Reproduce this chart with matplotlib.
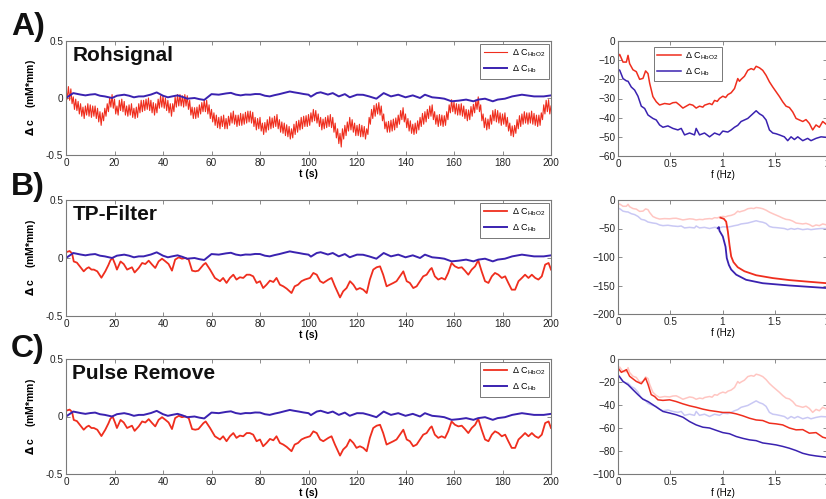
import matplotlib
matplotlib.use("Agg")
import matplotlib.pyplot as plt
import numpy as np

plt.rcParams['font.family'] = ['Liberation Sans', 'DejaVu Sans']
plt.rcParams['mathtext.fontset'] = 'custom'
plt.rcParams['mathtext.rm'] = 'Liberation Sans'

# ---------------- time-domain data ----------------
# raw HbO2 signal: pulse peaks at whole seconds, troughs at half seconds
t_raw_hi = list(range(0, 201))
hbo2_raw_hi = [0.08, 0.10, 0.08, 0.01, -0.01, -0.03, -0.05, -0.08, -0.07, -0.05,
               -0.06, -0.07, -0.07, -0.09, -0.12, -0.13, -0.09, -0.05, 0.00, 0.03,
               -0.01, -0.07, -0.02, -0.01, -0.03, -0.07, -0.06, -0.05, -0.09, -0.08,
               -0.05, -0.02, -0.02, -0.01, 0.00, -0.02, -0.04, -0.05, -0.01, 0.02,
               0.02, 0.00, -0.02, -0.05, -0.05, 0.01, 0.03, 0.03, 0.02, 0.03,
               0.02, -0.02, -0.08, -0.085, -0.08, -0.06, -0.04, -0.02, -0.02, -0.06,
               -0.10, -0.13, -0.15, -0.17, -0.16, -0.15, -0.18, -0.16, -0.13, -0.115,
               -0.15, -0.15, -0.135, -0.14, -0.125, -0.115, -0.115, -0.125, -0.17, -0.18,
               -0.17, -0.22, -0.215, -0.19, -0.165, -0.175, -0.16, -0.145, -0.19, -0.21,
               -0.22, -0.235, -0.25, -0.27, -0.23, -0.205, -0.195, -0.17, -0.16, -0.155,
               -0.145, -0.13, -0.10, -0.11, -0.14, -0.17, -0.185, -0.17, -0.155, -0.145,
               -0.17, -0.22, -0.27, -0.31, -0.27, -0.24, -0.21, -0.17, -0.19, -0.22,
               -0.24, -0.23, -0.24, -0.25, -0.27, -0.17, -0.10, -0.065, -0.05, -0.04,
               -0.07, -0.14, -0.21, -0.205, -0.195, -0.185, -0.175, -0.15, -0.11, -0.085,
               -0.14, -0.18, -0.20, -0.23, -0.22, -0.20, -0.17, -0.135, -0.12, -0.10,
               -0.07, -0.06, -0.12, -0.15, -0.145, -0.15, -0.155, -0.12, -0.06, -0.015,
               -0.035, -0.05, -0.055, -0.05, -0.07, -0.10, -0.105, -0.075, -0.055, -0.02,
               0.01, -0.06, -0.14, -0.175, -0.185, -0.15, -0.11, -0.10, -0.11, -0.13,
               -0.14, -0.13, -0.17, -0.22, -0.245, -0.24, -0.19, -0.155, -0.14, -0.12,
               -0.13, -0.13, -0.115, -0.135, -0.15, -0.15, -0.13, -0.06, -0.02, -0.015,
               -0.07]
t_raw_lo = [k + 0.5 for k in range(0, 200)]
hbo2_raw_lo = [-0.01, -0.02, -0.05, -0.10, -0.11, -0.14, -0.16, -0.18, -0.15, -0.16,
               -0.17, -0.16, -0.18, -0.21, -0.24, -0.20, -0.16, -0.12, -0.08, -0.09,
               -0.14, -0.15, -0.11, -0.12, -0.15, -0.16, -0.15, -0.17, -0.18, -0.17,
               -0.13, -0.12, -0.11, -0.10, -0.11, -0.13, -0.15, -0.13, -0.09, -0.08,
               -0.09, -0.11, -0.13, -0.16, -0.12, -0.08, -0.07, -0.07, -0.08, -0.07,
               -0.10, -0.15, -0.18, -0.18, -0.17, -0.14, -0.12, -0.12, -0.14, -0.18,
               -0.21, -0.24, -0.26, -0.27, -0.25, -0.27, -0.27, -0.24, -0.22, -0.23,
               -0.25, -0.24, -0.24, -0.23, -0.22, -0.21, -0.22, -0.25, -0.28, -0.27,
               -0.29, -0.32, -0.30, -0.28, -0.27, -0.26, -0.25, -0.27, -0.30, -0.31,
               -0.33, -0.34, -0.36, -0.35, -0.32, -0.30, -0.28, -0.27, -0.25, -0.25,
               -0.24, -0.21, -0.20, -0.22, -0.25, -0.28, -0.27, -0.26, -0.25, -0.26,
               -0.30, -0.35, -0.40, -0.43, -0.36, -0.33, -0.29, -0.28, -0.30, -0.33,
               -0.33, -0.34, -0.34, -0.36, -0.32, -0.23, -0.18, -0.16, -0.14, -0.15,
               -0.20, -0.27, -0.30, -0.30, -0.29, -0.28, -0.26, -0.23, -0.19, -0.21,
               -0.26, -0.29, -0.31, -0.32, -0.31, -0.28, -0.25, -0.23, -0.21, -0.18,
               -0.16, -0.19, -0.23, -0.25, -0.24, -0.25, -0.24, -0.19, -0.13, -0.12,
               -0.14, -0.15, -0.15, -0.16, -0.18, -0.20, -0.19, -0.16, -0.13, -0.10,
               -0.12, -0.20, -0.26, -0.28, -0.27, -0.23, -0.20, -0.21, -0.22, -0.24,
               -0.23, -0.25, -0.29, -0.33, -0.34, -0.31, -0.27, -0.25, -0.23, -0.22,
               -0.23, -0.22, -0.23, -0.24, -0.25, -0.24, -0.19, -0.14, -0.12, -0.14]

t_filt = [0, 1.5, 2.5, 3.2, 4.5, 6, 7.3, 8.5, 9.4, 10.5, 11.5, 12.9, 14.6, 16.2,
          17.5, 18.3, 19.2, 20.3, 21, 22.5, 23.8, 25.2, 27.2, 28.3, 30, 31.4,
          32.7, 34.1, 35.5, 36.8, 38.2, 39.6, 41, 42.3, 43.7, 45, 46.5, 47.8,
          49.2, 50.6, 52, 53.3, 54.6, 56.7, 57.6, 59.4, 61.4, 63.5, 64.8, 66.2,
          67.6, 69, 70.3, 71.7, 73.1, 74.5, 75.8, 77.2, 78.6, 80, 81.3, 82.7,
          84.1, 85.5, 86.8, 88.2, 89.6, 91, 93, 94.3, 95.7, 97.1, 98.5, 100.6,
          102, 103.4, 104.8, 106.1, 108.2, 109.5, 110.9, 113, 114.3, 115.7,
          117.1, 118.5, 119.8, 121.2, 122.6, 124, 125.3, 126.7, 128.1, 129.5,
          130.8, 132.2, 133.6, 135, 136.3, 137.7, 139.1, 140.5, 141.8, 143.2,
          144.6, 146, 147.3, 148.7, 150.1, 150.8, 152.1, 153.5, 154.9, 156.3,
          157.6, 159, 160.4, 161.8, 163.2, 164.5, 165.9, 167.3, 168.7, 170,
          171.4, 172.8, 174.2, 175.6, 176.9, 178.3, 179.7, 181.1, 182.4, 183.8,
          185.2, 186.6, 188, 189.3, 190.7, 192.1, 193.5, 194.8, 196.2, 197.6,
          199, 200]
hbo2_filt = [0.05, 0.06, 0.04, -0.03, -0.04, -0.08, -0.115, -0.09, -0.08, -0.1,
             -0.1, -0.115, -0.17, -0.115, -0.06, -0.02, 0.0, -0.057, -0.1, -0.03,
             -0.052, -0.1, -0.08, -0.125, -0.086, -0.043, -0.052, -0.023, -0.057,
             -0.086, -0.029, -0.006, -0.029, -0.052, -0.109, -0.014, 0.006,
             -0.006, 0.0, -0.014, -0.109, -0.115, -0.109, -0.057, -0.043, -0.1,
             -0.172, -0.2, -0.172, -0.215, -0.172, -0.144, -0.186, -0.166, -0.172,
             -0.144, -0.144, -0.158, -0.215, -0.2, -0.259, -0.23, -0.195, -0.207,
             -0.172, -0.23, -0.244, -0.264, -0.302, -0.244, -0.23, -0.2, -0.186,
             -0.172, -0.129, -0.144, -0.2, -0.215, -0.186, -0.172, -0.244, -0.34,
             -0.287, -0.259, -0.2, -0.23, -0.273, -0.259, -0.273, -0.302, -0.186,
             -0.1, -0.08, -0.072, -0.144, -0.244, -0.23, -0.215, -0.2, -0.158,
             -0.115, -0.2, -0.215, -0.259, -0.244, -0.2, -0.158, -0.144, -0.1,
             -0.086, -0.158, -0.186, -0.172, -0.186, -0.129, -0.043, -0.072,
             -0.086, -0.08, -0.109, -0.144, -0.1, -0.072, -0.02, -0.115, -0.2,
             -0.215, -0.158, -0.129, -0.144, -0.172, -0.158, -0.215, -0.273,
             -0.273, -0.2, -0.172, -0.144, -0.172, -0.144, -0.172, -0.186, -0.158,
             -0.057, -0.043, -0.1]

t_hb = [0, 3, 6, 8, 10, 12, 14, 16, 19, 21, 24, 26, 28, 30, 32, 35, 37.4, 40, 42,
        44, 46, 48, 50, 53, 55, 57, 60, 63, 66, 68, 70, 72, 74, 76, 78, 80, 82,
        84, 86, 88, 90, 92.3, 94, 96, 98, 100, 101, 103.4, 105, 108, 110, 112.5,
        115, 117, 120, 122.5, 125, 128, 131, 134, 137, 140, 143, 146, 148, 151,
        154, 156, 159, 162, 165, 168, 170, 172.8, 176, 178, 181, 184, 188, 190,
        193, 197, 200]
hb = [0.0, 0.043, 0.03, 0.023, 0.03, 0.034, 0.02, 0.014, 0.0, 0.02, 0.029, 0.02,
      0.006, 0.014, 0.014, 0.03, 0.049, 0.02, 0.006, 0.015, 0.023, 0.01, -0.006,
      0.0, -0.01, -0.017, 0.034, 0.029, 0.04, 0.045, 0.03, 0.023, 0.03, 0.029,
      0.035, 0.034, 0.02, 0.014, 0.025, 0.034, 0.045, 0.057, 0.05, 0.043, 0.035,
      0.029, 0.012, 0.043, 0.05, 0.03, 0.043, 0.014, 0.034, 0.006, 0.029, 0.028,
      0.014, -0.006, 0.043, 0.014, 0.029, 0.006, 0.023, 0.0, 0.029, 0.006, 0.0,
      -0.006, -0.029, -0.023, -0.014, -0.029, -0.014, -0.006, -0.029, -0.014,
      -0.006, 0.014, 0.029, 0.023, 0.014, 0.014, 0.023]

# ---------------- spectra ----------------
f_a_red = [0, 0.016, 0.048, 0.08, 0.096, 0.111, 0.143, 0.175, 0.207, 0.239, 0.264,
           0.287, 0.303, 0.334, 0.366, 0.398, 0.446, 0.494, 0.525, 0.557, 0.589,
           0.621, 0.653, 0.685, 0.717, 0.748, 0.78, 0.812, 0.828, 0.876, 0.9,
           0.924, 0.95, 0.971, 1.003, 1.03, 1.051, 1.083, 1.115, 1.146, 1.162,
           1.178, 1.21, 1.242, 1.274, 1.3, 1.322, 1.354, 1.385, 1.417, 1.449,
           1.481, 1.513, 1.545, 1.576, 1.608, 1.64, 1.672, 1.704, 1.736, 1.768,
           1.799, 1.831, 1.863, 1.895, 1.927, 1.959, 2.0]
psd_a_red = [-8.3, -7, -11, -11, -7.5, -11.8, -15, -16, -20, -19.5, -15.6, -17,
             -22, -29, -31.7, -33.4, -32.6, -33, -32.2, -32, -33.4, -35, -34, -33,
             -33.5, -35, -34, -34.5, -33.5, -32.6, -33.2, -31, -31.5, -30, -28.8,
             -29.5, -28, -27, -24.8, -19.6, -21, -20, -18.4, -15.3, -14.4, -15,
             -13.2, -14, -15.3, -17.9, -21.3, -24, -26.5, -29, -31.7, -34, -34.7,
             -37, -40.4, -41.2, -42, -41, -43, -46.4, -43.8, -45, -42, -43.8]

f_a_blue = [0, 0.016, 0.048, 0.08, 0.096, 0.127, 0.159, 0.191, 0.223, 0.255, 0.287,
            0.334, 0.366, 0.398, 0.43, 0.478, 0.525, 0.573, 0.605, 0.637, 0.685,
            0.732, 0.748, 0.78, 0.828, 0.876, 0.924, 0.971, 1.003, 1.051, 1.083,
            1.115, 1.146, 1.178, 1.21, 1.242, 1.29, 1.322, 1.354, 1.385, 1.417,
            1.449, 1.481, 1.513, 1.545, 1.592, 1.624, 1.656, 1.688, 1.72, 1.768,
            1.815, 1.847, 1.895, 1.943, 2.0]
psd_a_blue = [-14.9, -15.2, -19.6, -20.8, -21, -24, -25.6, -28.8, -34, -35.2,
              -38.6, -40.4, -41.2, -43.8, -45, -44.3, -45.6, -46.4, -45.6, -49,
              -48, -49, -45.6, -49, -48, -50, -48, -49, -47, -47.5, -46.4, -45,
              -44, -42, -41.2, -40.4, -38, -36.4, -38, -39, -41.2, -46.4, -48,
              -48.4, -49, -50, -52, -50, -51.4, -50, -52, -50.8, -52, -50.8, -50,
              -50.3]

f_b_red = [0.98, 1.013, 1.035, 1.051, 1.067, 1.083, 1.105, 1.146, 1.21, 1.322,
           1.481, 1.64, 1.799, 2.0]
psd_b_red = [-31, -33, -38, -55, -79, -99, -109, -118, -125, -132, -137, -140.5,
             -143, -146]
f_b_blue = [0.955, 0.965, 0.971, 1.003, 1.029, 1.041, 1.061, 1.083, 1.131, 1.226,
            1.385, 1.64, 2.0]
psd_b_blue = [-49.6, -47.5, -54, -64, -82, -102, -114, -122, -131, -140, -146,
              -150, -154.5]

f_c_red = [0, 0.032, 0.08, 0.111, 0.175, 0.223, 0.264, 0.287, 0.318, 0.35, 0.382,
           0.43, 0.494, 0.557, 0.621, 0.685, 0.748, 0.812, 0.876, 0.939, 1.003,
           1.067, 1.131, 1.194, 1.258, 1.322, 1.385, 1.449, 1.513, 1.576, 1.64,
           1.704, 1.768, 1.831, 1.895, 1.959, 2.0]
psd_c_red = [-7.8, -11.6, -9.3, -15, -19.5, -21.5, -16.6, -22, -31, -32.6, -35.5,
             -36, -35.5, -37, -39, -40.7, -42, -43.6, -44.8, -45.6, -46.5, -46.5,
             -47.7, -49.4, -51.5, -53, -53.5, -55.8, -56.4, -57.3, -60, -61.6,
             -61.4, -64.5, -64, -68, -69]
f_c_blue = [0, 0.048, 0.096, 0.143, 0.191, 0.239, 0.287, 0.334, 0.382, 0.43, 0.494,
            0.557, 0.621, 0.685, 0.748, 0.812, 0.876, 0.939, 1.003, 1.067, 1.131,
            1.194, 1.258, 1.322, 1.385, 1.449, 1.513, 1.576, 1.64, 1.704, 1.768,
            1.831, 1.895, 1.959, 2.0]
psd_c_blue = [-13.7, -19.5, -22.4, -26.7, -31, -35, -37, -39.8, -42.7, -45.6, -47,
              -48.5, -50.6, -54.4, -57.3, -59.3, -60, -62, -64, -65, -67.4, -69,
              -70.3, -71, -73, -73.8, -74.7, -76, -77.6, -79.6, -82, -83.4, -84.3,
              -85, -85.5]

row_labels = ["A)", "B)", "C)"]
titles = ["Rohsignal", "TP-Filter", "Pulse Remove"]
leg_hbo2 = r"$\Delta$ C$_{\mathrm{HbO2}}$"
leg_hb = r"$\Delta$ C$_{\mathrm{Hb}}$"

RED = "#ef2e1e"
BLUE = "#3a22b0"
RED_L = "#ffc6c2"
BLUE_L = "#c9c8f4"

# interleave raw peaks and troughs into one series (no new values)
t_raw = [v for pair in zip(t_raw_hi[:-1], t_raw_lo) for v in pair] + [t_raw_hi[-1]]
hbo2_raw = [v for pair in zip(hbo2_raw_hi[:-1], hbo2_raw_lo) for v in pair] + [hbo2_raw_hi[-1]]

W, H = 826, 499
fig = plt.figure(figsize=(W / 100, H / 100), dpi=100)


def ax_px(x0, y0, x1, y1):
    return fig.add_axes([x0 / W, 1 - y1 / H, (x1 - x0) / W, (y1 - y0) / H])


def style(ax):
    for s in ax.spines.values():
        s.set_color("#7a7a7a")
        s.set_linewidth(0.8)
    ax.tick_params(direction="in", length=3, width=0.6, color="#7a7a7a",
                   labelsize=7.2, labelcolor="#222222", top=True, right=True, pad=2)


def legend(ax, **kw):
    lg = ax.legend(fontsize=6.5, handlelength=2.6, fancybox=False,
                   edgecolor="#777777", framealpha=1, borderpad=0.4,
                   labelspacing=0.5, handletextpad=0.5, borderaxespad=0, **kw)
    lg.get_frame().set_linewidth(0.7)
    return lg


rows = [(41, 155, 41, 156), (200, 316, 200, 314), (359, 474, 359, 474)]

for i, (ly0, ly1, ry0, ry1) in enumerate(rows):
    # ---- left time-domain panel ----
    ax = ax_px(66, ly0, 551, ly1)
    style(ax)
    if i == 0:
        ax.plot(t_raw, hbo2_raw, color=RED, lw=0.8, label=leg_hbo2)
        ax.plot(t_hb, hb, color=BLUE, lw=1.4, label=leg_hb)
    else:
        ax.plot(t_filt, hbo2_filt, color=RED, lw=1.3, label=leg_hbo2)
        ax.plot(t_hb, hb, color=BLUE, lw=1.4, label=leg_hb)
    ax.set_xlim(0, 200)
    ax.set_ylim(-0.5, 0.5)
    ax.set_xticks(range(0, 201, 20))
    ax.set_yticks([-0.5, 0, 0.5])
    ax.set_yticklabels(["-0.5", "0", "0.5"])
    ax.set_xlabel("t (s)", fontsize=7.5, fontweight="bold", labelpad=1)
    ax.set_ylabel(r"$\mathbf{\Delta}$ c    (mM*mm)", fontsize=7.5,
                  fontweight="bold", labelpad=6)
    legend(ax, loc="upper right", bbox_to_anchor=(0.995, 0.975))
    ax.text(0.013, 0.96, titles[i], transform=ax.transAxes, fontsize=15,
            fontweight="bold", va="top", ha="left", color="#111111")

    # ---- right spectrum panel ----
    axr = ax_px(618, ry0, 827, ry1)
    style(axr)
    if i == 0:
        axr.plot(f_a_red, psd_a_red, color=RED, lw=1.1, label=leg_hbo2)
        axr.plot(f_a_blue, psd_a_blue, color=BLUE, lw=1.1, label=leg_hb)
        axr.set_ylim(-60, 0)
        axr.set_yticks(range(-60, 1, 10))
        legend(axr, loc="upper left", bbox_to_anchor=(0.17, 0.95))
    else:
        axr.plot(f_a_red, psd_a_red, color=RED_L, lw=1.1)
        axr.plot(f_a_blue, psd_a_blue, color=BLUE_L, lw=1.1)
        if i == 1:
            axr.plot(f_b_red, psd_b_red, color=RED, lw=1.3)
            axr.plot(f_b_blue, psd_b_blue, color=BLUE, lw=1.3)
            axr.set_ylim(-200, 0)
            axr.set_yticks(range(-200, 1, 50))
        else:
            axr.plot(f_c_red, psd_c_red, color=RED, lw=1.1)
            axr.plot(f_c_blue, psd_c_blue, color=BLUE, lw=1.1)
            axr.set_ylim(-100, 0)
            axr.set_yticks(range(-100, 1, 20))
    axr.set_xlim(0, 2)
    axr.set_xticks([0, 0.5, 1, 1.5, 2])
    axr.set_xticklabels(["0", "0.5", "1", "1.5", "2"])
    axr.set_xlabel("f (Hz)", fontsize=7, labelpad=1)

# row labels
for lab, yb in zip(row_labels, [35, 195, 357]):
    fig.text(11 / W, 1 - yb / H, lab, fontsize=23, fontweight="bold",
             ha="left", va="baseline", color="#111111")

fig.savefig("out.png", dpi=100)
